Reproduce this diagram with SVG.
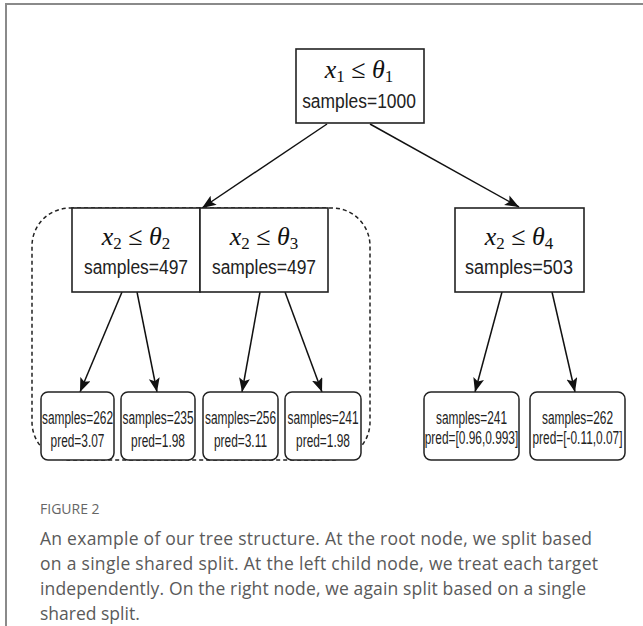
<svg xmlns="http://www.w3.org/2000/svg" width="643" height="626" viewBox="0 0 643 626">
<style>
.box{fill:#fff;stroke:#222;stroke-width:1.6}
.leaf{fill:#fff;stroke:#222;stroke-width:1.5}
.edge{fill:none;stroke:#111;stroke-width:1.5}
.math{font-family:"Liberation Serif",serif;font-size:26px;fill:#111}
.m{font-style:italic}
.samp{font-family:"Liberation Sans",Arial,sans-serif;font-size:21px;fill:#222;text-anchor:middle}
.lt{font-family:"Liberation Sans",Arial,sans-serif;font-size:17.5px;fill:#222;text-anchor:middle}
.cap{font-family:"Open Sans",Lato,sans-serif;font-size:17.5px;fill:#5a5a5a}
.fig{font-family:"Open Sans",Lato,sans-serif;font-size:14px;fill:#666}
</style>
<defs>
<marker id="arr" markerUnits="userSpaceOnUse" markerWidth="15" markerHeight="12" refX="14" refY="5.5" orient="auto">
<path d="M0,0 L14,5.5 L0,11 L3,5.5 z" fill="#111"/>
</marker>
</defs>
<rect width="643" height="626" fill="#fff"/>
<path d="M643,4 L6,4 L6,626" fill="none" stroke="#8a8a8a" stroke-width="2"/>

<g id="group-left-dashed">
<rect x="32" y="208" width="338" height="252" rx="38" ry="38" fill="none" stroke="#222" stroke-width="1.5" stroke-dasharray="4,3"/>
</g>

<g id="connectors">
<line class="edge" x1="327" y1="124" x2="202" y2="208" marker-end="url(#arr)"/>
<line class="edge" x1="370" y1="124" x2="519" y2="207" marker-end="url(#arr)"/>
<line class="edge" x1="122" y1="292" x2="80" y2="392" marker-end="url(#arr)"/>
<line class="edge" x1="137" y1="292" x2="157" y2="392" marker-end="url(#arr)"/>
<line class="edge" x1="260" y1="292" x2="242" y2="392" marker-end="url(#arr)"/>
<line class="edge" x1="285" y1="292" x2="322" y2="392" marker-end="url(#arr)"/>
<line class="edge" x1="502" y1="292" x2="475" y2="392" marker-end="url(#arr)"/>
<line class="edge" x1="552" y1="292" x2="575" y2="392" marker-end="url(#arr)"/>
</g>

<g id="root">
<rect class="box" x="296" y="49" width="128" height="74"/>
<text class="math" x="359" y="78" text-anchor="middle"><tspan class="m">x</tspan><tspan font-size="17" dy="4">1</tspan><tspan dy="-4"> ≤ </tspan><tspan class="m">θ</tspan><tspan font-size="17" dy="4">1</tspan></text>
<text class="samp" transform="translate(359,108) scale(0.83,1)" x="0" y="0">samples=1000</text>
</g>

<g id="split-theta2">
<rect class="box" x="72" y="208" width="128" height="84"/>
<text class="math" x="136" y="245" text-anchor="middle"><tspan class="m">x</tspan><tspan font-size="17" dy="4">2</tspan><tspan dy="-4"> ≤ </tspan><tspan class="m">θ</tspan><tspan font-size="17" dy="4">2</tspan></text>
<text class="samp" transform="translate(136,274) scale(0.83,1)" x="0" y="0">samples=497</text>
</g>

<g id="split-theta3">
<rect class="box" x="200" y="208" width="128" height="84"/>
<text class="math" x="264" y="245" text-anchor="middle"><tspan class="m">x</tspan><tspan font-size="17" dy="4">2</tspan><tspan dy="-4"> ≤ </tspan><tspan class="m">θ</tspan><tspan font-size="17" dy="4">3</tspan></text>
<text class="samp" transform="translate(264,274) scale(0.83,1)" x="0" y="0">samples=497</text>
</g>

<g id="split-theta4">
<rect class="box" x="455" y="208" width="129" height="84"/>
<text class="math" x="519" y="245" text-anchor="middle"><tspan class="m">x</tspan><tspan font-size="17" dy="4">2</tspan><tspan dy="-4"> ≤ </tspan><tspan class="m">θ</tspan><tspan font-size="17" dy="4">4</tspan></text>
<text class="samp" transform="translate(519,274) scale(0.86,1)" x="0" y="0">samples=503</text>
</g>

<g id="leaf1">
<rect class="leaf" x="41" y="392" width="73" height="68" rx="7"/>
<text class="lt" transform="translate(77.5,424) scale(0.68,1)">samples=262</text>
<text class="lt" transform="translate(77.5,447) scale(0.68,1)">pred=3.07</text>
</g>
<g id="leaf2">
<rect class="leaf" x="121" y="392" width="74" height="68" rx="7"/>
<text class="lt" transform="translate(158,424) scale(0.68,1)">samples=235</text>
<text class="lt" transform="translate(158,447) scale(0.68,1)">pred=1.98</text>
</g>
<g id="leaf3">
<rect class="leaf" x="203" y="392" width="75" height="68" rx="7"/>
<text class="lt" transform="translate(240.5,424) scale(0.68,1)">samples=256</text>
<text class="lt" transform="translate(240.5,447) scale(0.68,1)">pred=3.11</text>
</g>
<g id="leaf4">
<rect class="leaf" x="285" y="392" width="76" height="68" rx="7"/>
<text class="lt" transform="translate(323,424) scale(0.68,1)">samples=241</text>
<text class="lt" transform="translate(323,447) scale(0.68,1)">pred=1.98</text>
</g>
<g id="leaf5">
<rect class="leaf" x="424" y="392" width="95" height="68" rx="7"/>
<text class="lt" transform="translate(471.5,424) scale(0.68,1)">samples=241</text>
<text class="lt" transform="translate(471.5,444) scale(0.68,1)">pred=[0.96,0.993]</text>
</g>
<g id="leaf6">
<rect class="leaf" x="530" y="392" width="95" height="68" rx="7"/>
<text class="lt" transform="translate(577.5,424) scale(0.68,1)">samples=262</text>
<text class="lt" transform="translate(577.5,444) scale(0.68,1)">pred=[-0.11,0.07]</text>
</g>

<g id="caption">
<text class="fig" x="40" y="514">FIGURE 2</text>
<text class="cap" x="40" y="545" textLength="552" lengthAdjust="spacing">An example of our tree structure. At the root node, we split based</text>
<text class="cap" x="40" y="570" textLength="558" lengthAdjust="spacing">on a single shared split. At the left child node, we treat each target</text>
<text class="cap" x="40" y="595" textLength="546" lengthAdjust="spacing">independently. On the right node, we again split based on a single</text>
<text class="cap" x="40" y="620">shared split.</text>
</g>
</svg>
